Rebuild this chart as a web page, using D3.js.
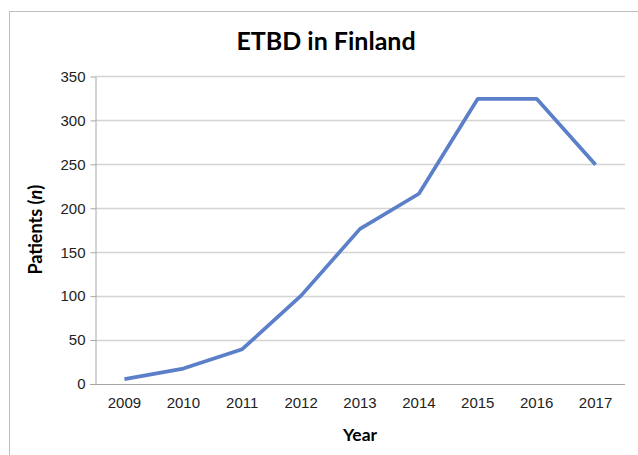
<!DOCTYPE html>
<html>
<head>
<meta charset="utf-8">
<script src="https://cdn.jsdelivr.net/npm/d3@7"></script>
<style>
  body { margin: 0; background: #fff; }
  svg { font-family: Lato, "Open Sans", sans-serif; }
</style>
</head>
<body>
<script>
// données
const years = ['2009', '2010', '2011', '2012', '2013', '2014', '2015', '2016', '2017'];
const patients = [5, 17, 39, 100, 176, 216, 324, 324, 249];
const yTicks = [0, 50, 100, 150, 200, 250, 300, 350];

const width = 638;
const height = 455;
const margin = { top: 76, right: 13, bottom: 72, left: 95 };

const svg = d3.select('body')
  .append('svg')
  .attr('width', width)
  .attr('height', height);

// cadre du graphique
svg.append('rect')
  .attr('x', 9.5)
  .attr('y', 11.5)
  .attr('width', width)
  .attr('height', height)
  .attr('fill', 'none')
  .attr('stroke', '#bdbdbd');

// échelles
const x = d3.scaleBand()
  .domain(years)
  .range([margin.left, width - margin.right]);

const y = d3.scaleLinear()
  .domain([0, 350])
  .range([height - margin.bottom + 0.5, margin.top]);

// grille horizontale
svg.append('g')
  .selectAll('line')
  .data(yTicks.slice(1))
  .join('line')
    .attr('x1', margin.left)
    .attr('x2', width - margin.right)
    .attr('y1', d => Math.round(y(d)) + 0.5)
    .attr('y2', d => Math.round(y(d)) + 0.5)
    .attr('stroke', '#d4d4d4')
    .attr('stroke-width', 1.3);

// axe vertical
svg.append('g')
  .attr('transform', `translate(${margin.left + 0.5}, 0.5)`)
  .call(d3.axisLeft(y).tickValues(yTicks).tickSize(5).tickPadding(5).tickSizeOuter(0))
  .call(g => g.selectAll('line, path').attr('stroke', '#a6a6a6'))
  .call(g => g.selectAll('text').attr('font-size', 15).attr('fill', '#222'));

// axe horizontal
svg.append('g')
  .attr('transform', `translate(0, ${Math.round(y(0)) + 0.5})`)
  .call(d3.axisBottom(x).tickSize(0).tickPadding(13).tickSizeOuter(0))
  .call(g => g.select('.domain').attr('d', `M${margin.left - 5},0H${width - margin.right}`).attr('stroke', '#a6a6a6'))
  .call(g => g.selectAll('text').attr('font-size', 15).attr('fill', '#222'));

// ligne
svg.append('path')
  .datum(patients)
  .attr('fill', 'none')
  .attr('stroke', '#5b7fc8')
  .attr('stroke-width', 3.7)
  .attr('stroke-linejoin', 'round')
  .attr('d', d3.line()
    .x((d, i) => x(years[i]) + x.bandwidth() / 2)
    .y(d => y(d)));

// titre
svg.append('text')
  .attr('x', 326)
  .attr('y', 50)
  .attr('text-anchor', 'middle')
  .attr('font-size', 25)
  .attr('font-weight', 'bold')
  .text('ETBD in Finland');

// titre axe x
svg.append('text')
  .attr('x', x.range()[0] + (x.range()[1] - x.range()[0]) / 2)
  .attr('y', 441)
  .attr('text-anchor', 'middle')
  .attr('font-size', 17.5)
  .attr('font-weight', 'bold')
  .text('Year');

// titre axe y
const yTitle = svg.append('text')
  .attr('transform', `translate(42, ${y(175)}) rotate(-90)`)
  .attr('text-anchor', 'middle')
  .attr('font-size', 18)
  .attr('font-weight', 'bold');
yTitle.append('tspan').text('Patients (');
yTitle.append('tspan').attr('font-style', 'italic').text('n');
yTitle.append('tspan').text(')');
</script>
</body>
</html>
